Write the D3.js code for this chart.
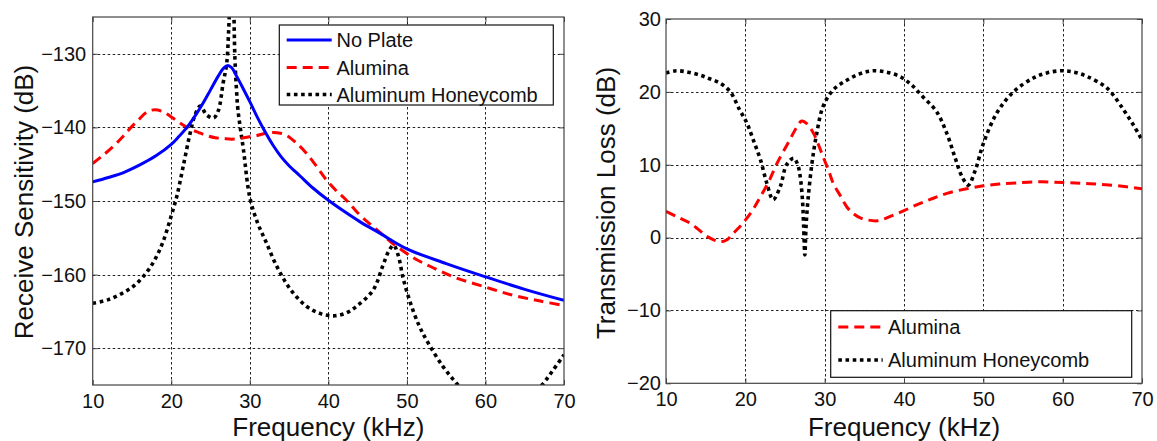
<!DOCTYPE html>
<html>
<head>
<meta charset="utf-8">
<script src="https://cdn.jsdelivr.net/npm/d3@7"></script>
<style>
  html, body { margin: 0; padding: 0; background: #fff; }
  svg { display: block; font-family: "Liberation Sans", Arial, Helvetica, sans-serif; }
</style>
</head>
<body>
<svg id="chart" width="1157" height="441"></svg>
<script>
// ---- Axis ticks ----
const freqTicks = [10, 20, 30, 40, 50, 60, 70];
const sensTicks = [-130, -140, -150, -160, -170];
const tlTicks = [30, 20, 10, 0, -10, -20];

// ---- Receive sensitivity (dB) vs frequency (kHz) ----
const noPlateSens = [
  [10, -147.4], [12, -146.8], [14, -146.1], [16, -145.1], [18, -143.9], [20, -142.3],
  [21, -141.2], [22, -140.0], [23, -138.5], [24, -136.8], [25, -134.9], [26, -133.0],
  [26.7, -131.9], [27.2, -131.6], [27.7, -131.9], [28.3, -133.0], [29, -134.4], [30, -136.5],
  [31, -138.7], [32, -140.7], [33, -142.5], [34, -144.0], [35, -145.2], [36.4, -146.6],
  [38, -148.2], [40, -149.9], [42, -151.4], [44, -152.8], [46.6, -154.4], [50, -156.5],
  [55, -158.5], [60, -160.3], [65, -162.0], [70, -163.5]
];
const aluminaSens = [
  [10, -144.9], [11.3, -143.8], [12.6, -142.6], [13.7, -141.4], [14.7, -140.2], [15.8, -139],
  [16.9, -137.9], [17.9, -137.6], [19, -137.9], [20.3, -138.8], [21.4, -139.6], [22.4, -140.2],
  [23.5, -140.7], [24.5, -141.1], [25.6, -141.4], [26.6, -141.5], [27.7, -141.6], [28.8, -141.5],
  [29.8, -141.3], [30.9, -141.1], [32, -140.8], [33, -140.7], [33.9, -140.8], [34.7, -141.1],
  [35.9, -142.1], [37.2, -143.5], [38.5, -145.3], [39.8, -147.2], [41, -148.6], [42.3, -149.9],
  [44, -151.9], [45.5, -153.3], [46.6, -154.3], [48, -155.6], [50.8, -157.7], [53, -158.9],
  [55.9, -160.3], [59.7, -161.6], [63.5, -162.8], [67, -163.6], [70, -164.2]
];
const honeycombSens = [
  [10, -163.9], [12, -163.4], [14, -162.4], [15.5, -161.3], [17, -159.5], [18, -157.8],
  [19, -155.4], [20, -152], [20.7, -149.4], [21.5, -145.4], [22.4, -140.8], [23, -138.4],
  [23.7, -137.1], [24.5, -138.3], [25.4, -138.7], [26, -137.7], [26.6, -134], [27.06, -131.3],
  [27.3, -127], [27.5, -122], [27.7, -119.5], [27.9, -122], [28.1, -130.5], [28.3, -134.8],
  [28.5, -137.7], [29.2, -143.1], [30, -149.5], [31, -153], [32, -155.4], [33.4, -158.8],
  [35.1, -161.9], [37.2, -164.3], [39, -165.3], [40.8, -165.6], [42.3, -165.2], [43.6, -164.3],
  [45.7, -162.1], [47, -158.6], [47.7, -156.8], [48.3, -156], [48.9, -157.4], [49.5, -160.4],
  [50.4, -163.7], [51.5, -166.8], [52.5, -168.9], [54.6, -172.5], [56.5, -175], [58.5, -177.5],
  [62, -179], [65, -177.5], [67.2, -175], [68.6, -173], [70, -170.9]
];

// ---- Transmission loss (dB) vs frequency (kHz) ----
const aluminaTL = [
  [10, 3.6], [11.5, 2.8], [13, 2.0], [14, 1.2], [15.1, 0.2], [16, -0.3], [16.8, -0.6],
  [17.7, -0.3], [18.5, 0.6], [19.3, 1.5], [20, 2.4], [21, 3.9], [21.9, 5.6], [23, 7.8],
  [24, 10.2], [25.6, 13.4], [26.4, 15], [27.1, 16.0], [27.8, 15.6], [28.6, 14.3], [29.2, 12.8],
  [29.8, 11.1], [30.5, 9.2], [31.1, 7.4], [32, 5.7], [32.8, 4.2], [33.6, 3.3], [34.5, 2.7],
  [35.5, 2.4], [36.6, 2.3], [37.6, 2.6], [38.7, 3.1], [40, 3.7], [41.2, 4.3], [42.5, 4.9],
  [43.7, 5.4], [45.5, 6.1], [47.9, 6.7], [50, 7.1], [52, 7.35], [54.2, 7.5], [57.2, 7.65],
  [60.1, 7.55], [62.5, 7.45], [64.7, 7.3], [67.5, 7.05], [70, 6.7]
];
const honeycombTL = [
  [10, 22.6], [11.3, 22.9], [12.8, 22.7], [14.3, 22.3], [15.5, 21.8], [16.8, 21.2], [18.1, 20],
  [19.3, 17.5], [20.2, 15.7], [21, 13.4], [21.9, 10.7], [22.7, 7.5], [23.5, 5.2], [24.4, 7.0],
  [25.2, 10.0], [26.1, 10.9], [26.6, 10.0], [26.9, 8.5], [27.2, 5.2], [27.35, 1.5], [27.5, -2.4],
  [27.65, 1.5], [27.9, 5.2], [28.4, 10.2], [29, 14.3], [29.8, 18], [31.1, 20.3], [32.8, 21.6],
  [34.5, 22.5], [36.1, 22.9], [37.8, 22.7], [39.5, 22.1], [41, 20.9], [42.4, 19.3], [44.1, 17.3],
  [45.4, 14.3], [46.4, 11.1], [47.3, 8.4], [48.1, 7.2], [49, 9.3], [50, 12.9], [51.7, 17.1],
  [53.8, 20], [56.3, 21.9], [58, 22.6], [59.9, 22.9], [61.5, 22.7], [63.1, 22.1], [65.6, 20.5],
  [67.7, 17.5], [69, 15.3], [70, 13.4]
];

// ---- Line styles ----
const lineStyles = {
  noPlate:   { color: "#0000ff", width: 3,   dash: null },
  alumina:   { color: "#ff0000", width: 3,   dash: "10,6" },
  honeycomb: { color: "#000000", width: 3.6, dash: "3.6,3.6" }
};

const svg = d3.select("#chart");
const TICK_FONT = 20;
const TITLE_FONT = 26;

function drawPanel(p) {
  const x = d3.scaleLinear().domain([10, 70]).range([p.left, p.right]);
  const y = d3.scaleLinear().domain(p.yDomain).range([p.bottom, p.top]);
  const g = svg.append("g");
  const clipId = "clip-" + p.id;

  g.append("clipPath").attr("id", clipId)
    .append("rect")
    .attr("x", p.left).attr("y", p.top)
    .attr("width", p.right - p.left).attr("height", p.bottom - p.top);

  g.append("rect")
    .attr("x", p.left).attr("y", p.top)
    .attr("width", p.right - p.left).attr("height", p.bottom - p.top)
    .attr("fill", "#fff");

  // dotted grid
  const grid = g.append("g").attr("stroke", "#222").attr("stroke-width", 1)
    .attr("stroke-dasharray", "2.5,2.5");
  grid.selectAll("line.gx").data(freqTicks.filter(t => t > 10 && t < 70)).join("line")
    .attr("x1", d => Math.round(x(d)) + 0.5).attr("x2", d => Math.round(x(d)) + 0.5)
    .attr("y1", p.top).attr("y2", p.bottom);
  const yd = d3.extent(p.yDomain);
  grid.selectAll("line.gy").data(p.yTicks.filter(t => t > yd[0] && t < yd[1])).join("line")
    .attr("y1", d => Math.round(y(d)) + 0.5).attr("y2", d => Math.round(y(d)) + 0.5)
    .attr("x1", p.left).attr("x2", p.right);

  // curves
  const line = d3.line().x(d => x(d[0])).y(d => y(d[1])).curve(d3.curveCatmullRom.alpha(0.5));
  const curves = g.append("g").attr("clip-path", `url(#${clipId})`);
  p.series.forEach(s => {
    const st = lineStyles[s.style];
    curves.append("path")
      .datum(s.data)
      .attr("d", line)
      .attr("fill", "none")
      .attr("stroke", st.color)
      .attr("stroke-width", st.width)
      .attr("stroke-dasharray", st.dash)
      .attr("stroke-linejoin", "round");
  });

  // axes with inward ticks on all four sides
  const styleAxis = sel => {
    sel.select(".domain").remove();
    sel.selectAll(".tick line").attr("stroke", "#444");
    sel.selectAll(".tick text").attr("fill", "#111")
      .attr("font-size", TICK_FONT)
      .attr("font-family", '"Liberation Sans", Arial, sans-serif');
  };
  g.append("g").attr("transform", `translate(0,${p.bottom})`)
    .call(d3.axisBottom(x).tickValues(freqTicks).tickSizeInner(-5).tickSizeOuter(0)
      .tickPadding(9).tickFormat(d3.format("d")))
    .call(styleAxis);
  g.append("g").attr("transform", `translate(0,${p.top})`)
    .call(d3.axisTop(x).tickValues(freqTicks).tickSizeInner(-5).tickSizeOuter(0).tickFormat(""))
    .call(styleAxis);
  g.append("g").attr("transform", `translate(${p.left},0)`)
    .call(d3.axisLeft(y).tickValues(p.yTicks).tickSizeInner(-5).tickSizeOuter(0)
      .tickPadding(p.yPad).tickFormat(d3.format("d")))
    .call(styleAxis);
  g.append("g").attr("transform", `translate(${p.right},0)`)
    .call(d3.axisRight(y).tickValues(p.yTicks).tickSizeInner(-5).tickSizeOuter(0).tickFormat(""))
    .call(styleAxis);

  // frame
  g.append("rect")
    .attr("x", p.left).attr("y", p.top)
    .attr("width", p.right - p.left).attr("height", p.bottom - p.top)
    .attr("fill", "none").attr("stroke", "#444").attr("stroke-width", 1.2);

  // axis titles
  g.append("text")
    .attr("x", (p.left + p.right) / 2).attr("y", 436)
    .attr("text-anchor", "middle").attr("font-size", TITLE_FONT).attr("fill", "#111")
    .text("Frequency (kHz)");
  g.append("text")
    .attr("transform", `translate(${p.yTitleX},${p.yTitleY}) rotate(-90)`)
    .attr("text-anchor", "middle").attr("font-size", TITLE_FONT).attr("fill", "#111")
    .text(p.yTitle);

  // legend
  const L = p.legend;
  const lg = g.append("g");
  lg.append("rect")
    .attr("x", L.x0).attr("y", L.y0)
    .attr("width", L.x1 - L.x0).attr("height", L.y1 - L.y0)
    .attr("fill", "#fff").attr("stroke", "#111").attr("stroke-width", 1.2);
  L.items.forEach((it, i) => {
    const st = lineStyles[it.style];
    const yy = L.rows[i];
    lg.append("line")
      .attr("x1", L.sx0).attr("x2", L.sx1).attr("y1", yy).attr("y2", yy)
      .attr("stroke", st.color).attr("stroke-width", st.width)
      .attr("stroke-dasharray", st.dash);
    lg.append("text")
      .attr("x", L.tx).attr("y", yy).attr("dy", "0.36em")
      .attr("font-size", TICK_FONT).attr("fill", "#111")
      .text(it.label);
  });
}

drawPanel({
  id: "sens",
  left: 92.7, right: 564, top: 17, bottom: 385,
  yDomain: [-175, -125], yTicks: sensTicks, yPad: 6.5,
  yTitle: "Receive Sensitivity (dB)", yTitleX: 33, yTitleY: 202,
  series: [
    { data: honeycombSens, style: "honeycomb" },
    { data: aluminaSens, style: "alumina" },
    { data: noPlateSens, style: "noPlate" }
  ],
  legend: {
    x0: 279.3, y0: 25, x1: 553.3, y1: 105,
    sx0: 286.7, sx1: 331.7, tx: 336.5,
    rows: [40, 67.5, 94.5],
    items: [
      { label: "No Plate", style: "noPlate" },
      { label: "Alumina", style: "alumina" },
      { label: "Aluminum Honeycomb", style: "honeycomb" }
    ]
  }
});

drawPanel({
  id: "tl",
  left: 666, right: 1142, top: 19, bottom: 383.3,
  yDomain: [-20, 30], yTicks: tlTicks, yPad: 5,
  yTitle: "Transmission Loss (dB)", yTitleX: 615, yTitleY: 203,
  series: [
    { data: honeycombTL, style: "honeycomb" },
    { data: aluminaTL, style: "alumina" }
  ],
  legend: {
    x0: 830.7, y0: 310.7, x1: 1131.7, y1: 377.3,
    sx0: 838.3, sx1: 882.7, tx: 888,
    rows: [327, 360],
    items: [
      { label: "Alumina", style: "alumina" },
      { label: "Aluminum Honeycomb", style: "honeycomb" }
    ]
  }
});
</script>
</body>
</html>
